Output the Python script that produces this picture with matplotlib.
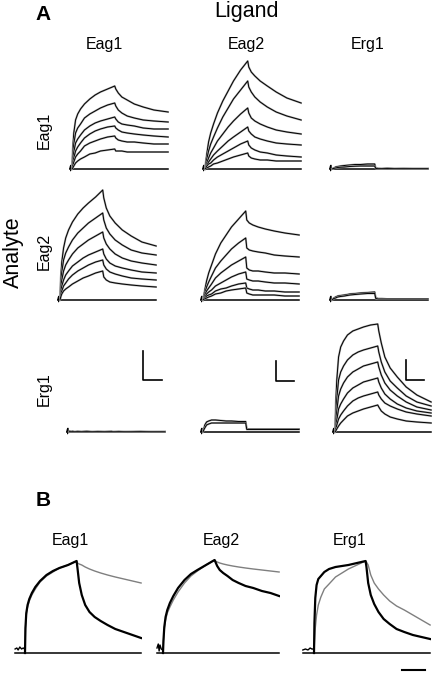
import matplotlib
matplotlib.use("Agg")
import matplotlib.pyplot as plt

W, H = 438, 676
plt.rcParams["font.family"] = ["Liberation Sans", "DejaVu Sans"]

# time (s) of the panel A points: injection 0-120 s, buffer wash after
t_a = [0, 2, 5, 10, 16, 24, 35, 50, 65, 80, 100, 120, 123, 130, 140, 155, 175, 200, 230, 270]
# time (s) of the panel B points
t_b = [0, 1, 3, 6, 10, 16, 24, 35, 50, 65, 80, 100, 120,
       122, 126, 132, 140, 150, 162, 176, 192, 210, 230, 250, 270]

ligands = ["Eag1", "Eag2", "Erg1"]
analytes = ["Eag1", "Eag2", "Erg1"]

# panel A responses (RU), one list per analyte concentration
eag1_on_eag1 = [
    [0, 20, 36, 49, 55, 60, 65, 70, 74, 77, 80, 83, 80, 76, 72, 69, 65, 62, 59, 57],
    [0, 13, 25, 36, 41, 45, 51, 55, 58, 61, 64, 66, 63, 59, 56, 53, 51, 49, 48, 47],
    [0, 8, 17, 26, 30, 34, 39, 43, 46, 48, 50, 52, 50, 47, 45, 44, 43, 41, 40, 40],
    [0, 6, 11, 18, 22, 26, 31, 35, 38, 40, 42, 43, 41, 39, 37, 36, 35, 34, 33, 32],
    [0, 3, 7, 12, 15, 18, 23, 26, 28, 30, 32, 33, 31, 29, 28, 27, 27, 26, 25, 25],
    [0, 1, 3, 6, 8, 10, 12, 15, 16, 18, 19, 20, 18, 18, 18, 17, 17, 17, 17, 17],
]
eag1_on_eag2 = [
    [0, 7, 15, 27, 36, 45, 56, 68, 78, 88, 99, 108, 102, 97, 93, 88, 83, 77, 71, 66],
    [0, 5, 10, 18, 25, 32, 41, 52, 61, 70, 79, 88, 82, 77, 72, 67, 62, 57, 53, 49],
    [0, 3, 6, 11, 16, 21, 28, 35, 42, 48, 55, 61, 56, 51, 48, 45, 42, 39, 37, 35],
    [0, 2, 4, 7, 10, 14, 18, 23, 28, 32, 37, 42, 38, 35, 32, 30, 28, 26, 25, 24],
    [0, 1, 3, 5, 6, 9, 12, 15, 18, 21, 25, 28, 24, 21, 19, 17, 16, 14, 13, 12],
    [0, 1, 1, 2, 3, 5, 6, 8, 10, 12, 14, 16, 13, 11, 10, 9, 9, 8, 8, 8],
]
eag1_on_erg1 = [
    [0, 0.5, 1, 2, 2.5, 3, 3.5, 4, 4.5, 4.5, 5, 5, 1, 0.6, 0.5, 0.8, 0.5, 0.6, 0.5, 0.5],
    [0, 0.3, 0.6, 1, 1.5, 1.8, 2, 2.5, 2.8, 3, 3, 3, 0.5, 0.3, 0.3, 0.4, 0.3, 0.3, 0.3, 0.3],
]
eag2_on_eag1 = [
    [0, 22, 38, 52, 62, 70, 78, 86, 92, 97, 103, 110, 102, 92, 84, 77, 70, 64, 58, 54],
    [0, 16, 28, 40, 47, 53, 60, 67, 72, 77, 82, 87, 80, 72, 66, 60, 55, 50, 47, 45],
    [0, 11, 20, 29, 35, 40, 46, 52, 56, 60, 64, 68, 62, 56, 51, 46, 42, 39, 37, 35],
    [0, 7, 14, 20, 25, 29, 34, 38, 42, 45, 48, 51, 46, 41, 37, 34, 32, 30, 28, 27],
    [0, 5, 9, 14, 17, 21, 25, 29, 32, 35, 38, 40, 35, 31, 28, 26, 24, 22, 21, 20],
    [0, 3, 6, 9, 11, 13, 16, 19, 22, 24, 27, 29, 23, 20, 18, 17, 16, 15, 14, 13],
]
eag2_on_eag2 = [
    [0, 4, 10, 19, 27, 35, 46, 57, 65, 73, 81, 89, 80, 77, 75, 73, 71, 69, 67, 65],
    [0, 3, 7, 13, 18, 24, 32, 39, 45, 51, 57, 62, 52, 50, 49, 48, 47, 45, 44, 43],
    [0, 2, 5, 9, 12, 16, 22, 27, 31, 35, 39, 43, 32, 30, 29, 29, 28, 27, 27, 26],
    [0, 1, 3, 6, 8, 10, 14, 17, 20, 23, 26, 28, 21, 20, 19, 19, 18, 17, 17, 16],
    [0, 1, 2, 4, 5, 6, 9, 11, 12, 14, 16, 17, 12, 11, 10, 10, 9, 9, 8, 8],
    [0, 1, 1, 2, 3, 4, 6, 7, 9, 10, 11, 12, 7, 6, 5, 5, 5, 5, 4, 4],
]
eag2_on_erg1 = [
    [0, 1, 2, 3, 4, 4.5, 5, 6, 6.5, 7, 7.5, 8, 2, 1.5, 1.5, 1, 1, 1, 1, 1],
    [0, 0.5, 1.5, 2, 3, 3.5, 4, 5, 5.5, 6, 6.5, 6.5, 1.5, 1, 1, 1, 1, 1, 1, 1],
]
erg1_on_eag1 = [
    [0, 1, 0.5, 0.8, 0.4, 0.7, 0.5, 0.8, 0.4, 0.6, 0.5, 0.7, 0.4, 0.5, 0.6, 0.4, 0.5, 0.6, 0.4, 0.5],
    [0, 0.4, 0.2, 0.3, 0.2, 0.3, 0.2, 0.3, 0.2, 0.3, 0.2, 0.3, 0.2, 0.2, 0.3, 0.2, 0.2, 0.3, 0.2, 0.2],
]
erg1_on_eag2 = [
    [0, 3, 7, 10, 11, 12, 12, 11.5, 11, 11, 10.5, 10.5, 3, 3, 3, 3, 3, 3, 3, 3],
    [0, 2, 4, 7, 8, 9, 9, 9, 9, 9, 9, 9, 2.5, 2.5, 2.5, 2.5, 2.5, 2.5, 2.5, 2.5],
]
erg1_on_erg1 = [
    [0, 28, 52, 75, 85, 91, 97, 101, 103, 105, 107, 108, 101, 89, 75, 64, 55, 45, 37, 30],
    [0, 15, 33, 52, 60, 66, 72, 77, 80, 82, 84, 86, 80, 70, 60, 51, 44, 36, 30, 26],
    [0, 9, 21, 36, 43, 49, 55, 60, 63, 66, 68, 70, 65, 57, 49, 42, 36, 30, 25, 22],
    [0, 5, 12, 23, 28, 33, 39, 44, 47, 50, 52, 54, 50, 44, 38, 33, 28, 24, 21, 19],
    [0, 3, 7, 13, 17, 21, 26, 31, 34, 36, 38, 40, 37, 33, 29, 26, 23, 20, 18, 16],
    [0, 1, 3, 6, 9, 12, 16, 19, 21, 23, 25, 27, 25, 21, 18, 15, 13, 11, 10, 9],
]

grid_a = [
    [eag1_on_eag1, eag1_on_eag2, eag1_on_erg1],
    [eag2_on_eag1, eag2_on_eag2, eag2_on_erg1],
    [erg1_on_eag1, erg1_on_eag2, erg1_on_erg1],
]

# injection artefact at the start of each trace
spike_t = [-7, -5, -4, -3, -2, 0]
spike_r = [0, 3, -2, 4, -1, 0]

# scale bars in the bottom row (s, RU)
bar_t = [[208, 208, 261], [205, 205, 256], [199, 199, 250]]
bar_r = [[81, 52, 52], [71, 51, 51], [72, 52, 52]]

# panel B: normalised responses, black = homomeric, grey = heteromeric
b_black = [
    [0, 25, 40, 48, 54, 60, 66, 72, 78, 82, 85, 88, 92,
     85, 70, 58, 48, 41, 36, 32, 28, 24, 21, 18, 15],
    [0, 12, 26, 36, 43, 50, 57, 65, 73, 79, 83, 88, 93,
     91, 87, 83, 80, 77, 73, 70, 67, 65, 62, 60, 57],
    [0, 30, 55, 68, 74, 77, 81, 84, 86, 87, 88, 90, 92,
     86, 70, 58, 49, 41, 34, 29, 24, 21, 18, 16, 14],
]
b_grey = [
    [0, 23, 38, 46, 52, 58, 64, 71, 77, 81, 85, 88, 92,
     90, 89, 88, 86, 84, 82, 80, 78, 76, 74, 72, 70],
    [0, 11, 24, 33, 40, 46, 53, 61, 70, 77, 82, 88, 93,
     92, 91, 90, 89, 88, 87, 86, 85, 84, 83, 82, 81],
    [0, 10, 25, 38, 48, 56, 64, 69, 76, 80, 84, 88, 92,
     91, 88, 78, 70, 64, 58, 52, 47, 43, 38, 33, 28],
]
b_pre_t = [[-23, -19, -16, -12, -8, -4, -1], [-14, -11, -9, -7, -4, -1], [-26, -20, -14, -9, -5, -1]]
b_pre_r = [[4, 5, 3, 6, 4, 5, 4], [5, 9, 2, 8, 4, 3], [3, 4, 3, 5, 4, 4]]
b_time_bar = [205, 258]
b_bar_r = [-17, -17]

fig = plt.figure(figsize=(W / 100, H / 100), dpi=100)


def px_axes(x0, yb, sx, tmin, tmax, rmin, rmax):
    left = x0 + tmin * sx
    width = (tmax - tmin) * sx
    bottom = yb - rmin
    height = rmax - rmin
    ax = fig.add_axes([left / W, 1 - bottom / H, width / W, height / H])
    ax.set_xlim(tmin, tmax)
    ax.set_ylim(rmin, rmax)
    ax.axis("off")
    return ax


# injection position (px) and baseline (px) of each A panel
a_x0 = [[72, 205, 332], [60, 203, 332], [69, 203, 335]]
a_yb = [169, 300, 432]

for i in range(3):
    for j in range(3):
        ax = px_axes(a_x0[i][j], a_yb[i], 0.356, -8, 272, -6, 116)
        ax.plot([-7, 270], [0, 0], color="black", lw=1.1)
        ax.plot(spike_t, spike_r, color="black", lw=0.6)
        for curve in grid_a[i][j]:
            ax.plot(t_a, curve, color="#a8a8a8", lw=1.4, solid_joinstyle="round")
            ax.plot(t_a, curve, color="black", lw=0.7, solid_joinstyle="round")
        if i == 2:
            ax.plot(bar_t[j], bar_r[j], color="black", lw=1.2)

b_x0 = [25, 163, 314]
b_start = [-23, -14, -26]
for k in range(3):
    ax = px_axes(b_x0[k], 653, 0.43, -28, 272, -20, 100)
    ax.plot([b_start[k], 270], [0, 0], color="black", lw=1.1)
    ax.plot(b_pre_t[k] + [0], b_pre_r[k] + [0], color="black", lw=1.0)
    ax.plot(t_b, b_grey[k], color="#7f7f7f", lw=1.0)
    ax.plot(t_b, b_black[k], color="black", lw=1.6)
    if k == 2:
        ax.plot(b_time_bar, b_bar_r, color="black", lw=1.5)


def label(x, y, s, **kw):
    fig.text(x / W, 1 - y / H, s, **kw)


label(43, 15, "A", fontsize=15, fontweight="bold", ha="center", va="center")
label(43, 500, "B", fontsize=15, fontweight="bold", ha="center", va="center")
label(246, 17, "Ligand", fontsize=15.5, ha="center", va="baseline")
label(13, 252, "Analyte", fontsize=15.5, rotation=90, ha="center", va="center")

col_x = [104, 246, 368]
for name, x in zip(ligands, col_x):
    label(x, 49, name, fontsize=11.5, ha="center", va="baseline")

row_y = [130, 251, 389]
for name, y in zip(analytes, row_y):
    label(44, y, name, fontsize=11.5, rotation=90, ha="center", va="center")

b_label_x = [70, 221, 350]
for name, x in zip(ligands, b_label_x):
    label(x, 545, name, fontsize=11.5, ha="center", va="baseline")

fig.savefig("out.png", dpi=100)
